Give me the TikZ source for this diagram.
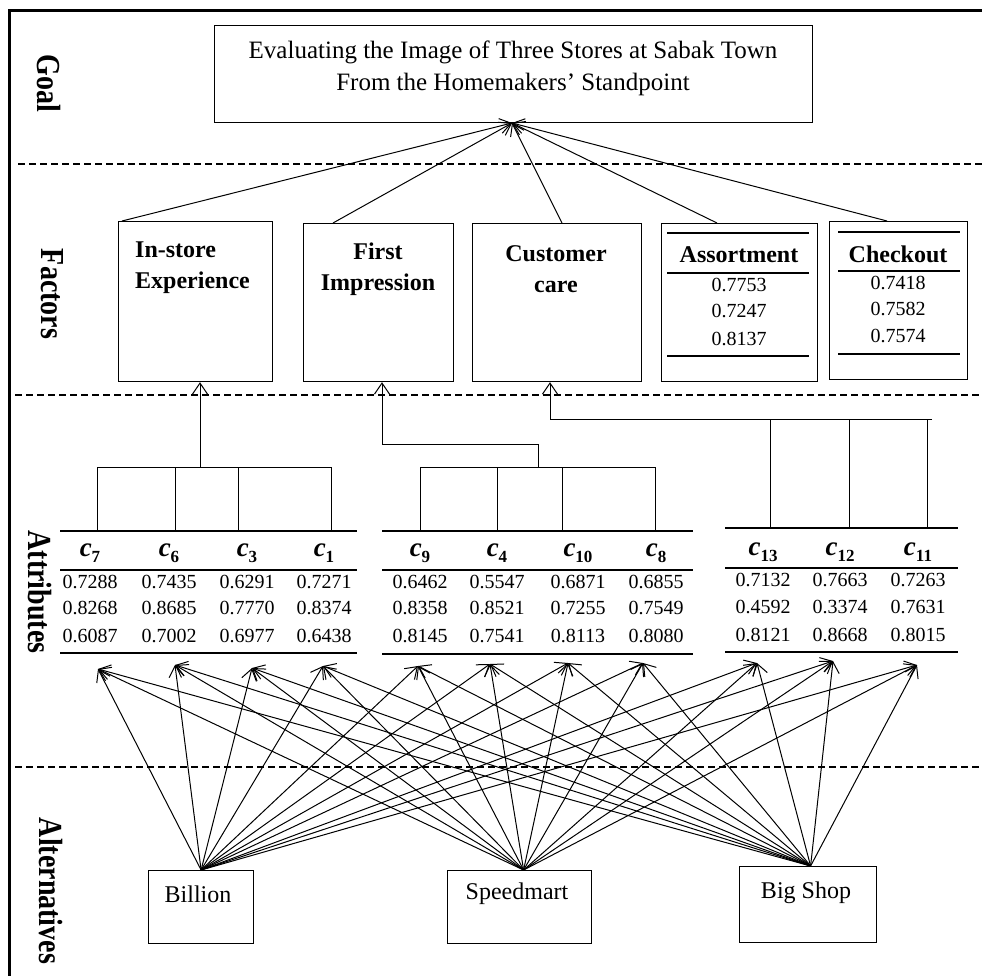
\documentclass[tikz,border=0pt]{standalone}
\usepackage{fontspec}
\setmainfont{Liberation Serif}
\usetikzlibrary{arrows.meta}

\newcommand\mytitlefont{\fontsize{25}{32}\selectfont}
\newcommand\myboldfont{\fontsize{24}{31}\selectfont\bfseries}
\newcommand\myvalfont{\fontsize{20}{24}\selectfont}
\newcommand\myaltfont{\fontsize{24}{28}\selectfont}
\newcommand\mysidefont{\fontsize{28}{32}\selectfont\bfseries}
\newcommand\myhdrfont{\fontsize{27}{30}\selectfont}
\newcommand\myattr[1]{\textbf{\textit{c}}\raisebox{-0.25em}{\fontsize{17}{17}\selectfont\textbf{#1}}}

\begin{document}
\begin{tikzpicture}[x=1pt,y=-1pt,
  box/.style={draw, line width=1.2pt, inner sep=0pt, anchor=north west},
  sepline/.style={dashed, dash pattern=on 7pt off 4pt, line width=1.3pt},
  conn/.style={line width=1pt},
  arr/.style={line width=1pt, -{Straight Barb[length=11pt,width=15pt]}},
  rule/.style={line width=1.3pt},
  txt/.style={inner sep=0pt},
  side/.style={inner sep=0pt, rotate=-90, font=\mysidefont},
]
\useasboundingbox (0,0) rectangle (982,976);

% frame
\draw[line width=3pt] (9,976) -- (9,11) -- (982,11);

% level separators
\draw[sepline] (18,164) -- (982,164);
\draw[sepline] (15,395) -- (982,395);
\draw[sepline] (15,767) -- (982,767);

% side labels
\node[side] (lgoal) at (49,83) {\scalebox{1}[1.2]{Goal}};
\node[side] (lfact) at (52,294) {\scalebox{1}[1.2]{Factors}};
\node[side] (lattr) at (40,592) {\scalebox{1}[1.2]{Attributes}};
\node[side] (lalt) at (51,891) {\scalebox{1}[1.2]{Alternatives}};

% goal
\node[box, minimum width=598pt, minimum height=97pt] (goal) at (214,25) {};
\node[txt, align=center, font=\mytitlefont] (gtext) at (513,68)
  {Evaluating the Image of Three Stores at Sabak Town\\From the Homemakers’ Standpoint};
\coordinate (gp) at (512,123);

% factors
\node[box, minimum width=154pt, minimum height=160pt] (f1) at (118,221) {};
\node[box, minimum width=150pt, minimum height=158pt] (f2) at (303,223) {};
\node[box, minimum width=169pt, minimum height=158pt] (f3) at (472,223) {};
\node[box, minimum width=156pt, minimum height=158pt] (f4) at (661,223) {};
\node[box, minimum width=138pt, minimum height=158pt] (f5) at (829,221) {};

\node[txt, align=left, anchor=west, font=\myboldfont] (f1t) at (135,268) {In-store\\Experience};
\node[txt, align=center, font=\myboldfont] (f2t) at (378,269) {First\\Impression};
\node[txt, align=center, font=\myboldfont] (f3t) at (556,269) {Customer\\care};

\draw[rule] (667,233) -- (809,233);
\draw[rule] (667,273) -- (809,273);
\draw[rule] (667,356) -- (809,356);
\node[txt, font=\myboldfont] (f4t) at (739,255) {Assortment};
\node[txt, font=\myvalfont] (f4a) at (739,285) {0.7753};
\node[txt, font=\myvalfont] (f4b) at (739,311) {0.7247};
\node[txt, font=\myvalfont] (f4c) at (739,339) {0.8137};

\draw[rule] (838,232) -- (960,232);
\draw[rule] (838,271) -- (960,271);
\draw[rule] (838,354) -- (960,354);
\node[txt, font=\myboldfont] (f5t) at (898,254) {Checkout};
\node[txt, font=\myvalfont] (f5a) at (898,283) {0.7418};
\node[txt, font=\myvalfont] (f5b) at (898,309) {0.7582};
\node[txt, font=\myvalfont] (f5c) at (898,336) {0.7574};

% factor -> goal
\draw[arr] ([xshift=4pt]f1.north west) -- (gp);
\draw[arr] ([xshift=30pt]f2.north west) -- (gp);
\draw[arr] ([xshift=90pt]f3.north west) -- (gp);
\draw[arr] ([xshift=56pt]f4.north west) -- (gp);
\draw[arr] ([xshift=58pt]f5.north west) -- (gp);

% attribute trees
\coordinate (k1) at (200,467);
\draw[conn] (97,531) -- (97,467) -- (331,467) -- (331,531);
\draw[conn] (175,467) -- (175,531);
\draw[conn] (238,467) -- (238,531);
\draw[arr] (k1) -- (k1 |- f1.south);

\coordinate (k2) at (382,444);
\draw[conn] (420,531) -- (420,467) -- (655,467) -- (655,531);
\draw[conn] (497,467) -- (497,531);
\draw[conn] (562,467) -- (562,531);
\draw[arr] (538,467) |- (k2) -- (k2 |- f2.south);

\coordinate (k3) at (550,419);
\draw[conn] (770,528) -- (770,419);
\draw[conn] (849,528) -- (849,419);
\draw[conn] (927,528) -- (927,419);
\draw[arr] (932,419) -- (k3) -- (k3 |- f3.south);

% attribute tables
\draw[rule] (60,531) -- (357,531);
\draw[rule] (60,570) -- (357,570);
\draw[rule] (60,653) -- (357,653);
\draw[rule] (382,531) -- (693,531);
\draw[rule] (382,570) -- (693,570);
\draw[rule] (382,654) -- (693,654);
\draw[rule] (725,528) -- (958,528);
\draw[rule] (725,568) -- (958,568);
\draw[rule] (725,652) -- (958,652);

\foreach \x/\n/\a/\b/\c in {90/7/0.7288/0.8268/0.6087, 169/6/0.7435/0.8685/0.7002,
  247/3/0.6291/0.7770/0.6977, 324/1/0.7271/0.8374/0.6438,
  420/9/0.6462/0.8358/0.8145, 497/4/0.5547/0.8521/0.7541,
  578/10/0.6871/0.7255/0.8113, 656/8/0.6855/0.7549/0.8080}{
  \node[txt, anchor=base, font=\myhdrfont] (h\n) at (\x,556) {\myattr{\n}};
  \node[txt, font=\myvalfont] (v\n-1) at (\x,582) {\a};
  \node[txt, font=\myvalfont] (v\n-2) at (\x,608) {\b};
  \node[txt, font=\myvalfont] (v\n-3) at (\x,636) {\c};
}
\foreach \x/\n/\a/\b/\c in {763/13/0.7132/0.4592/0.8121, 840/12/0.7663/0.3374/0.8668,
  918/11/0.7263/0.7631/0.8015}{
  \node[txt, anchor=base, font=\myhdrfont] (h\n) at (\x,555) {\myattr{\n}};
  \node[txt, font=\myvalfont] (v\n-1) at (\x,580) {\a};
  \node[txt, font=\myvalfont] (v\n-2) at (\x,607) {\b};
  \node[txt, font=\myvalfont] (v\n-3) at (\x,635) {\c};
}

% arrow tips under attributes
\coordinate (t7) at (98,669);
\coordinate (t6) at (175,665);
\coordinate (t3) at (252,668);
\coordinate (t1) at (323,666);
\coordinate (t9) at (418,666);
\coordinate (t4) at (490,664);
\coordinate (t10) at (568,663);
\coordinate (t8) at (643,663);
\coordinate (t13) at (757,663);
\coordinate (t12) at (833,661);
\coordinate (t11) at (917,665);

% alternatives
\node[box, minimum width=105pt, minimum height=73pt] (billion) at (148,870) {};
\node[box, minimum width=144pt, minimum height=73pt] (speed) at (447,870) {};
\node[box, minimum width=137pt, minimum height=76pt] (big) at (739,866) {};
\node[txt, font=\myaltfont] (billiont) at (198,894) {Billion};
\node[txt, font=\myaltfont] (speedt) at (517,894) {Speedmart};
\node[txt, font=\myaltfont] (bigt) at (806,893) {Big Shop};

\coordinate (sb) at (billion.north);
\coordinate (ss) at ([xshift=4pt]speed.north);
\coordinate (sg) at ([xshift=2.5pt]big.north);

\foreach \s in {sb,ss,sg}
  \foreach \t in {t7,t6,t3,t1,t9,t4,t10,t8,t13,t12,t11}
    \draw[arr] (\s) -- (\t);
\end{tikzpicture}
\end{document}
